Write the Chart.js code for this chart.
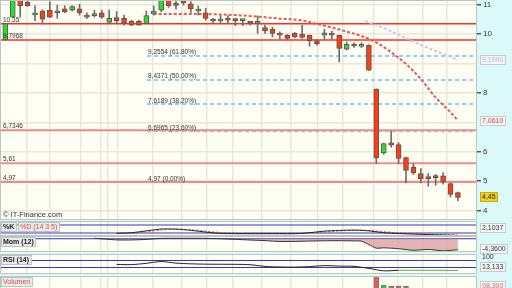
<!DOCTYPE html>
<html>
<head>
<meta charset="utf-8">
<script src="https://cdn.jsdelivr.net/npm/chart.js@4.4.1/dist/chart.umd.min.js"></script>
<style>
  html, body { margin: 0; padding: 0; width: 512px; height: 288px; overflow: hidden; background: #dcf9f9; }
  .pane { position: absolute; left: 0; width: 512px; }
</style>
</head>
<body>
<div class="pane" style="top:0;height:220px"><canvas id="main"></canvas></div>
<div class="pane" style="top:218px;height:20px"><canvas id="stoch"></canvas></div>
<div class="pane" style="top:236px;height:20px"><canvas id="mom"></canvas></div>
<div class="pane" style="top:252px;height:24px"><canvas id="rsi"></canvas></div>
<div class="pane" style="top:274px;height:24px"><canvas id="vol"></canvas></div>
<script>
// =======================================
// Daily candles (x = trading day index)
// =======================================
const opens  = [9.80, 10.57, 11.18, 11.07, 10.65, 10.78, 10.81, 10.72, 10.85, 10.81,
                10.85, 10.58, 10.62, 10.72, 10.39, 10.56, 10.53, 10.44, 10.44, 10.36,
                10.68, 10.81, 11.16, 10.98, 11.15, 11.02, 10.78, 10.72, 10.45, 10.44,
                10.47, 10.46, 10.45, 10.36, 10.36, 10.22, 10.16, 9.96, 9.96, 10.02,
                10.00, 9.96, 9.77, 9.96, 10.02, 9.95, 9.48, 9.62, 9.58, 9.62,
                8.13, 5.96, 6.30, 6.24, 5.80, 5.48, 5.26, 5.09, 5.12, 5.18,
                4.92, 4.61];
const highs  = [10.36, 11.25, 11.20, 11.20, 10.96, 10.82, 11.10, 10.98, 10.96, 10.96,
                11.01, 10.72, 10.81, 10.81, 10.81, 10.76, 10.64, 10.47, 10.47, 10.78,
                10.95, 11.20, 11.20, 11.16, 11.20, 11.10, 10.95, 10.87, 10.53, 10.62,
                10.62, 10.53, 10.50, 10.42, 10.61, 10.30, 10.23, 10.07, 9.98, 10.05,
                10.30, 9.96, 9.81, 10.16, 10.10, 9.96, 9.73, 9.70, 9.70, 9.63,
                8.14, 6.29, 6.70, 6.31, 5.82, 5.60, 5.43, 5.26, 5.23, 5.29,
                4.94, 4.63];
const lows   = [9.78, 10.55, 10.57, 10.94, 10.45, 10.34, 10.55, 10.53, 10.72, 10.78,
                10.64, 10.53, 10.57, 10.53, 10.36, 10.36, 10.30, 10.28, 10.30, 10.34,
                10.64, 10.76, 10.90, 10.84, 10.98, 10.73, 10.64, 10.47, 10.38, 10.36,
                10.38, 10.28, 10.28, 10.30, 10.02, 10.02, 9.90, 9.82, 9.82, 9.87,
                9.85, 9.59, 9.62, 9.82, 9.82, 9.05, 9.45, 9.54, 9.54, 8.75,
                5.60, 5.91, 6.16, 5.60, 4.94, 5.23, 4.94, 4.83, 4.86, 4.90,
                4.46, 4.33];
const closes = [10.35, 11.20, 10.96, 10.96, 10.72, 10.50, 10.57, 10.78, 10.76, 10.93,
                10.72, 10.57, 10.63, 10.57, 10.53, 10.45, 10.36, 10.30, 10.30, 10.62,
                10.78, 11.16, 10.96, 10.97, 11.05, 10.85, 10.84, 10.53, 10.44, 10.45,
                10.47, 10.45, 10.46, 10.36, 10.41, 10.10, 10.02, 9.96, 9.85, 9.90,
                9.88, 9.77, 9.66, 10.04, 9.96, 9.51, 9.65, 9.59, 9.62, 8.77,
                5.79, 6.28, 6.22, 5.77, 5.37, 5.28, 5.09, 5.09, 5.12, 4.97,
                4.55, 4.45];
const volumes = [22000, 30000, 18000, 12000, 15000, 16000, 14000, 10000, 9000, 11000,
                 12000, 8000, 9000, 13000, 17000, 12000, 14000, 11000, 9000, 20000,
                 15000, 24000, 13000, 10000, 9000, 14000, 11000, 16000, 8000, 7000,
                 8000, 9000, 7000, 6000, 18000, 15000, 14000, 10000, 11000, 9000,
                 16000, 20000, 13000, 17000, 12000, 36000, 19000, 10000, 9000, 40000,
                 98300, 59000, 54500, 54500, 54500, 38000, 35000, 30000, 26000, 32000,
                 42000, 36000];

// horizontal levels
const redLevels = [10.35, 9.7968];
const redLevelLabels = ["10,35", "9,7968"];
const pinkLevels = [6.7346, 5.61, 4.97];
const pinkLevelLabels = ["6,7346", "5,61", "4,97"];
const fibLevels = [9.2554, 8.4371, 7.6189, 6.6965, 4.97];
const fibLabels = ["9,2554 (61,80%)", "8,4371 (50,00%)", "7,6189 (38,20%)", "6,6965 (23,60%)", "4,97 (0,00%)"];
const fibStartDay = 19.1;

// dashed trend curves
const curveDays = [20, 25, 28, 31, 34, 37, 40, 42, 44, 46, 48, 50, 52, 54, 56, 58, 60, 61];
const curveVals = [10.68, 10.68, 10.67, 10.64, 10.59, 10.52, 10.46, 10.34, 10.22, 10.08,
                   9.93, 9.71, 9.38, 8.98, 8.47, 7.84, 7.34, 7.061];
const avgDays = [48.5, 50, 52, 54, 56, 58, 60, 61];
const avgVals = [10.44, 10.30, 10.09, 9.86, 9.63, 9.42, 9.22, 9.109];

// indicators
const indDays = [15, 17, 19, 21, 23, 25, 27, 29, 31, 33, 35, 37, 39, 41, 43, 45, 47, 49, 51, 53, 55, 57, 59, 61];
const stochK = [18, 22, 36, 50, 49, 40, 27, 17, 15, 15, 15, 15, 15, 22, 34, 39, 42, 36, 22, 16, 12, 8, 5, 2.1037];
const stochD = [20, 20, 28, 42, 49, 45, 34, 24, 17, 15, 15, 15, 15, 18, 27, 35, 40, 39, 30, 21, 15, 11, 7, 4];
const stochBands = [80, 20];
const momDays = [12, 15, 17, 19, 21, 23, 25, 27, 29, 31, 33, 35, 37, 39, 41, 43, 45, 47, 48, 49, 50, 51, 53, 55, 57, 59, 61];
const momVals = [0.2, -0.45, -0.48, -0.25, 0.15, 0.2, 0.2, 0.18, 0.0, -0.22, -0.5, -0.74, -1.1, -1.05,
                 -0.92, -0.8, -0.76, -0.85, -0.95, -2.3, -3.75, -3.6, -3.95, -4.6, -4.25, -4.8, -4.36];
const rsiVals = [47.5, 46.5, 54, 64, 55, 51, 49, 48.5, 48, 46, 36, 33, 32, 35, 41, 38, 36.5, 25, 11, 14, 14, 14, 13.5, 13.133];
const rsiBands = [70, 30];

// axes
const gridDays = [2.9, 6.0, 10.1, 12.8, 13.8, 15.2, 19.9, 23.8, 27.2, 30.7, 34.6, 38.4, 42.1, 45.5, 49.6, 52.9, 56.2, 59.5];
const priceTicks = [4, 5, 6, 7, 8, 9, 10, 11];
const hiddenTicks = [7, 9];

// -------------------------------
// styles
// -------------------------------
const FONT = '"Liberation Sans", Arial, sans-serif';
const PLOT_BG = "#fefef3";
const GRID = "#e7e7de";
const FRAME = "#b9c6c6";
const RED = "#ff3c14";
const GREEN = "#2fdc2f";
const X_MIN = -0.72, X_MAX = 63.57;

Chart.defaults.font.family = FONT;

const pts = (xs, ys) => xs.map((x, k) => ({ x, y: ys[k] }));
const fmt = (v, d) => v.toFixed(d).replace(".", ",");

function xAxis() {
  return {
    type: "linear", min: X_MIN, max: X_MAX, offset: false,
    afterBuildTicks: s => { s.ticks = gridDays.map(v => ({ value: v })); },
    ticks: { display: false },
    grid: { color: GRID, lineWidth: 1.5, drawTicks: false, offset: false },
    border: { display: false }
  };
}

function level(v, from, color, width, dash, order) {
  return {
    type: "line", data: [{ x: from, y: v }, { x: X_MAX, y: v }],
    borderColor: color, borderWidth: width, borderDash: dash, pointRadius: 0, order
  };
}

function tag(ctx, x, yc, text, color, bg, border) {
  ctx.font = "7px " + FONT;
  const w = Math.ceil(ctx.measureText(text).width) + 4, h = 10;
  const top = Math.round(yc - h / 2);
  ctx.fillStyle = bg;
  ctx.fillRect(x, top, w, h);
  ctx.strokeStyle = border;
  ctx.lineWidth = 1;
  ctx.strokeRect(x + 0.5, top + 0.5, w - 1, h - 1);
  ctx.fillStyle = color;
  ctx.textBaseline = "middle";
  ctx.fillText(text, x + 2, top + h / 2 + 0.5);
}

function nameBox(ctx, x, y, text, color, bold) {
  ctx.font = (bold ? "bold " : "") + "7px " + FONT;
  const w = Math.ceil(ctx.measureText(text).width) + 4;
  ctx.fillStyle = "#e9eaea";
  ctx.fillRect(x, y, w, 10);
  ctx.strokeStyle = "#bcc4c4";
  ctx.lineWidth = 1;
  ctx.strokeRect(x + 0.5, y + 0.5, w - 1, 9);
  ctx.fillStyle = color;
  ctx.textBaseline = "middle";
  ctx.fillText(text, x + 2, y + 5.5);
  return w + 1;
}

const panelBg = {
  id: "panelBg",
  beforeDraw(chart) {
    const { ctx, chartArea: a } = chart;
    ctx.save();
    ctx.fillStyle = PLOT_BG;
    ctx.fillRect(a.left, a.top, a.width, a.height);
    ctx.restore();
  },
  afterDatasetsDraw(chart) {
    const { ctx, chartArea: a } = chart;
    ctx.save();
    ctx.strokeStyle = FRAME;
    ctx.lineWidth = 1;
    ctx.strokeRect(a.left + 0.5, a.top + 0.5, a.width - 1, a.height - 1);
    ctx.restore();
  }
};

// -------------------------------
// MAIN PRICE PANEL
// -------------------------------
const days = opens.map((_, i) => i);
const bodyColors = days.map(i => closes[i] > opens[i] ? GREEN : RED);

const mainText = {
  id: "mainText",
  afterDatasetsDraw(chart) {
    const { ctx, chartArea: a, scales: { x, y } } = chart;
    ctx.save();
    ctx.font = "6.5px " + FONT;
    ctx.fillStyle = "#333";
    ctx.textBaseline = "alphabetic";
    redLevels.forEach((v, k) => ctx.fillText(redLevelLabels[k], a.left + 3, y.getPixelForValue(v) - 2));
    pinkLevels.forEach((v, k) => ctx.fillText(pinkLevelLabels[k], a.left + 3, y.getPixelForValue(v) - 2));
    const fx = x.getPixelForValue(fibStartDay) + 1;
    fibLevels.forEach((v, k) => ctx.fillText(fibLabels[k], fx, y.getPixelForValue(v) - 1.5));
    ctx.font = "7.5px " + FONT;
    ctx.fillText("\u00a9 IT-Finance.com", a.left + 3, a.bottom - 3);
    ctx.restore();
  },
  afterDraw(chart) {
    const { ctx, chartArea: a, scales: { y } } = chart;
    ctx.save();
    const tx = a.right + 3;
    tag(ctx, tx, y.getPixelForValue(avgVals.at(-1)), fmt(avgVals.at(-1), 4), "#b6b6e8", "#f4f6f6", "#c6cccc");
    tag(ctx, tx, y.getPixelForValue(curveVals.at(-1)), fmt(curveVals.at(-1), 4), "#e03a3a", "#f6f8f8", "#c6cccc");
    tag(ctx, tx, y.getPixelForValue(closes.at(-1)), fmt(closes.at(-1), 2), "#222", "#f2d21c", "#c8aa10");
    ctx.restore();
  }
};

new Chart(document.getElementById("main"), {
  type: "bar",
  data: {
    datasets: [
      { label: "body", data: days.map(i => ({ x: i, y: [opens[i], closes[i]] })),
        backgroundColor: bodyColors, borderColor: "#555", borderWidth: 1, borderSkipped: false,
        barThickness: 5, minBarLength: 2, grouped: false, order: 1 },
      { label: "wick", data: days.map(i => ({ x: i, y: [lows[i], highs[i]] })),
        backgroundColor: "#6e6e6e", borderWidth: 0, barThickness: 1, grouped: false, order: 2 },
      { type: "line", label: "trend", data: pts(curveDays, curveVals), borderColor: "#e25a5a",
        borderWidth: 2, borderDash: [3, 2], pointRadius: 0, cubicInterpolationMode: "monotone", order: 3 },
      { type: "line", label: "avg", data: pts(avgDays, avgVals), borderColor: "#c8c8f0",
        borderWidth: 2, borderDash: [3, 2], pointRadius: 0, cubicInterpolationMode: "monotone", order: 4 },
      ...redLevels.map(v => level(v, X_MIN, "#ff2b2b", 1.5, [], 5)),
      ...pinkLevels.map(v => level(v, X_MIN, "#f18b8b", 2, [], 6)),
      ...fibLevels.map(v => level(v, fibStartDay, "#8fd0f2", 2, [4, 3], 7))
    ]
  },
  options: {
    animation: false, responsive: true, maintainAspectRatio: false, events: [],
    layout: { padding: 0 },
    plugins: { legend: { display: false }, tooltip: { enabled: false } },
    scales: {
      x: xAxis(),
      y: {
        position: "right", min: 3.683, max: 11.153,
        afterBuildTicks: s => { s.ticks = priceTicks.map(v => ({ value: v })); },
        afterFit: s => { s.width = 35; s.paddingTop = 0; s.paddingBottom = 0; },
        ticks: { color: "#333", font: { size: 8 }, padding: 2,
                 callback: v => hiddenTicks.includes(v) ? "" : String(v) },
        grid: { color: GRID, lineWidth: 1.5, tickLength: 4,
                tickColor: c => c.tick && hiddenTicks.includes(c.tick.value) ? "rgba(0,0,0,0)" : "#555" },
        border: { display: false }
      }
    }
  },
  plugins: [panelBg, mainText]
});

// -------------------------------
// INDICATOR PANELS
// -------------------------------
function decor(names, tags) {
  return {
    id: "decor",
    afterDraw(chart) {
      const { ctx, chartArea: a } = chart;
      ctx.save();
      let x = a.left + 1;
      names.forEach(n => { x += nameBox(ctx, x, a.top + 1, n.text, n.color, n.bold); });
      tags.forEach(t => {
        if (t.plain) {
          ctx.font = "7px " + FONT;
          ctx.fillStyle = "#333";
          ctx.textBaseline = "middle";
          ctx.fillText(t.text, a.right + 5, a.top + t.dy);
        } else {
          tag(ctx, a.right + 3, a.top + t.dy, t.text, t.color, t.bg || "#f6f8f8", "#c6cccc");
        }
      });
      ctx.restore();
    }
  };
}

function panel(id, pad, yMin, yMax, datasets, names, tags) {
  return new Chart(document.getElementById(id), {
    type: "bar",
    data: { datasets },
    options: {
      animation: false, responsive: true, maintainAspectRatio: false, events: [],
      layout: { padding: { top: pad[0], bottom: pad[1], left: 0, right: 0 } },
      plugins: { legend: { display: false }, tooltip: { enabled: false } },
      scales: {
        x: xAxis(),
        y: { position: "right", min: yMin, max: yMax,
             afterFit: s => { s.width = 35; s.paddingTop = 0; s.paddingBottom = 0; },
             ticks: { display: false }, grid: { display: false }, border: { display: false } }
      }
    },
    plugins: [panelBg, decor(names, tags)]
  });
}

const bandLine = v => level(v, X_MIN, "#3434c4", 1, [], 9);

panel("stoch", [3, 2], -2.5, 110, [
  { type: "line", data: pts(indDays, stochK), borderColor: "#222", borderWidth: 1, pointRadius: 0, tension: 0.3, order: 1 },
  { type: "line", data: pts(indDays, stochD), borderColor: "#e05050", borderWidth: 1, borderDash: [2, 2], pointRadius: 0, tension: 0.3, order: 2 },
  ...stochBands.map(bandLine)
], [{ text: "%K", color: "#222", bold: true }, { text: "%D (14 3 5)", color: "#e04848" }],
   [{ text: fmt(stochK.at(-1), 4), color: "#333", dy: 6.5 }]);

panel("mom", [0, 4], -5.27, 1.1, [
  { type: "line", data: pts(momDays, momVals), borderColor: "#333", borderWidth: 1, pointRadius: 0, tension: 0.2,
    fill: { target: { value: 0 }, above: "rgba(214,150,150,0.7)", below: "rgba(214,150,150,0.7)" }, order: 1 },
  bandLine(0)
], [{ text: "Mom (12)", color: "#222", bold: true }],
   [{ text: fmt(momVals.at(-1), 4), color: "#333", dy: 13 }]);

panel("rsi", [2, 2], -7.1, 107, [
  { type: "line", data: pts(indDays, rsiVals), borderColor: "#222", borderWidth: 1, pointRadius: 0, tension: 0.3,
    segment: { borderColor: c => c.p0.parsed.x >= 53 ? "#6f9c5e" : "#222" }, order: 1 },
  ...rsiBands.map(bandLine)
], [{ text: "RSI (14)", color: "#222", bold: true }],
   [{ text: "100", plain: true, dy: 3.5 }, { text: fmt(rsiVals.at(-1), 3), color: "#333", dy: 12.5 }]);

panel("vol", [2, 0], 0, 100000, [
  { data: days.map(i => ({ x: i, y: volumes[i] })),
    backgroundColor: days.map(i => closes[i] > opens[i] ? "#2ecc2e" : "#e35a5a"),
    borderColor: "#777", borderWidth: 1, borderSkipped: false, barThickness: 5, grouped: false }
], [{ text: "Volumen", color: "#e04848" }],
   [{ text: Math.max(...volumes).toLocaleString("de-DE"), color: "#e06060", dy: 10 }]);
</script>
</body>
</html>
